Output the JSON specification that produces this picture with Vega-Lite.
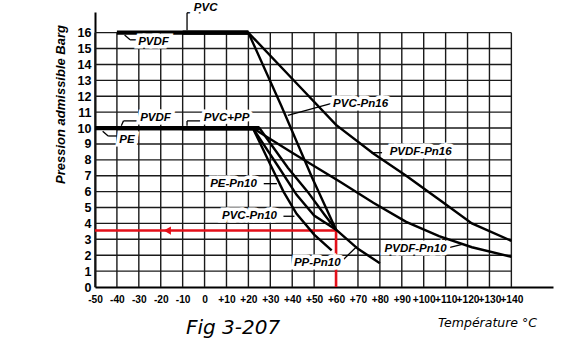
{
  "$schema": "https://vega.github.io/schema/vega-lite/v6.json",
  "width": 458,
  "height": 275,
  "autosize": {"type": "none"},
  "padding": {"left": 95, "top": 12, "right": 26, "bottom": 69},
  "background": "white",
  "config": {
    "view": {"stroke": null},
    "axis": {"grid": false, "ticks": false, "domainColor": "#000", "domainWidth": 2, "labelColor": "#000", "titleColor": "#000", "labelOverlap": false, "labelFlush": false, "labelBound": false}
  },
  "datasets": {
    "vgrid": [{"T": -50}, {"T": -40}, {"T": -30}, {"T": -20}, {"T": -10}, {"T": 0}, {"T": 10}, {"T": 20}, {"T": 30}, {"T": 40}, {"T": 50}, {"T": 60}, {"T": 70}, {"T": 80}, {"T": 90}, {"T": 100}, {"T": 110}, {"T": 120}, {"T": 130}, {"T": 140}],
    "hgrid": [{"P": 1}, {"P": 2}, {"P": 3}, {"P": 4}, {"P": 5}, {"P": 6}, {"P": 7}, {"P": 8}, {"P": 9}, {"P": 10}, {"P": 11}, {"P": 12}, {"P": 13}, {"P": 14}, {"P": 15}, {"P": 16}],
    "red": [{"i": 1, "T": -50, "P": 3.55}, {"i": 2, "T": 60, "P": 3.55}, {"i": 3, "T": 60, "P": 0}],
    "arrow": [{"T": -17, "P": 3.55}],
    "curves": [
      {"series": "PVDF-Pn16", "T": -40, "P": 16}, {"series": "PVDF-Pn16", "T": 20, "P": 16}, {"series": "PVDF-Pn16", "T": 40, "P": 13.1}, {"series": "PVDF-Pn16", "T": 60, "P": 10.2}, {"series": "PVDF-Pn16", "T": 77, "P": 8.4}, {"series": "PVDF-Pn16", "T": 92, "P": 7.0}, {"series": "PVDF-Pn16", "T": 107, "P": 5.5}, {"series": "PVDF-Pn16", "T": 122, "P": 4.0}, {"series": "PVDF-Pn16", "T": 140, "P": 2.9},
      {"series": "PVC-Pn16", "T": -10, "P": 16}, {"series": "PVC-Pn16", "T": 20, "P": 16}, {"series": "PVC-Pn16", "T": 35, "P": 11.4}, {"series": "PVC-Pn16", "T": 49, "P": 6.9}, {"series": "PVC-Pn16", "T": 60, "P": 3.6},
      {"series": "PE-Pn10", "T": -50, "P": 10}, {"series": "PE-Pn10", "T": 22, "P": 10}, {"series": "PE-Pn10", "T": 30, "P": 7.7}, {"series": "PE-Pn10", "T": 36, "P": 6.0}, {"series": "PE-Pn10", "T": 42, "P": 4.6}, {"series": "PE-Pn10", "T": 50, "P": 3.3}, {"series": "PE-Pn10", "T": 58, "P": 2.3},
      {"series": "PVC-Pn10", "T": -10, "P": 10}, {"series": "PVC-Pn10", "T": 22, "P": 10}, {"series": "PVC-Pn10", "T": 34, "P": 7.5}, {"series": "PVC-Pn10", "T": 42, "P": 5.8}, {"series": "PVC-Pn10", "T": 50, "P": 4.5}, {"series": "PVC-Pn10", "T": 60, "P": 3.6},
      {"series": "PP-Pn10", "T": -10, "P": 10}, {"series": "PP-Pn10", "T": 25, "P": 10}, {"series": "PP-Pn10", "T": 38, "P": 7.5}, {"series": "PP-Pn10", "T": 47, "P": 6.0}, {"series": "PP-Pn10", "T": 55, "P": 4.5}, {"series": "PP-Pn10", "T": 60, "P": 3.6}, {"series": "PP-Pn10", "T": 70, "P": 2.4}, {"series": "PP-Pn10", "T": 80, "P": 1.5},
      {"series": "PVDF-Pn10", "T": -40, "P": 10}, {"series": "PVDF-Pn10", "T": 22, "P": 10}, {"series": "PVDF-Pn10", "T": 40, "P": 8.45}, {"series": "PVDF-Pn10", "T": 62, "P": 6.6}, {"series": "PVDF-Pn10", "T": 77, "P": 5.3}, {"series": "PVDF-Pn10", "T": 92, "P": 4.1}, {"series": "PVDF-Pn10", "T": 107, "P": 3.2}, {"series": "PVDF-Pn10", "T": 122, "P": 2.5}, {"series": "PVDF-Pn10", "T": 140, "P": 1.9}
    ],
    "leaders": [
      {"T": -8, "P": 17.25, "T2": -8, "P2": 16.15}, {"T": -8, "P": 17.25, "T2": 1, "P2": 17.25},
      {"T": -36.5, "P": 15.85, "T2": -34, "P2": 15.55}, {"T": -34, "P": 15.55, "T2": -31, "P2": 15.55},
      {"T": -38, "P": 10.15, "T2": -37, "P2": 10.45}, {"T": -37, "P": 10.45, "T2": -31, "P2": 10.45},
      {"T": -8, "P": 10.15, "T2": -8, "P2": 10.45}, {"T": -8, "P": 10.45, "T2": -2, "P2": 10.45},
      {"T": -46.5, "P": 9.8, "T2": -44, "P2": 9.5}, {"T": -44, "P": 9.5, "T2": -40, "P2": 9.5},
      {"T": 58, "P": 11.55, "T2": 38, "P2": 10.8},
      {"T": 76, "P": 8.45, "T2": 81, "P2": 8.45},
      {"T": 27, "P": 6.5, "T2": 33, "P2": 6.5},
      {"T": 36, "P": 4.45, "T2": 41, "P2": 4.45},
      {"T": 63.5, "P": 1.75, "T2": 69.5, "P2": 2.55},
      {"T": 112, "P": 2.5, "T2": 118, "P2": 2.7}
    ],
    "labels": [
      {"text": "PVC", "T": 0.5, "P": 17.55},
      {"text": "PVDF", "T": -23.3, "P": 15.4},
      {"text": "PVDF", "T": -22.4, "P": 10.63},
      {"text": "PVC+PP", "T": 10, "P": 10.63},
      {"text": "PE", "T": -35.4, "P": 9.25},
      {"text": "PVC-Pn16", "T": 71.2, "P": 11.5},
      {"text": "PVDF-Pn16", "T": 98.6, "P": 8.5},
      {"text": "PE-Pn10", "T": 13.2, "P": 6.48},
      {"text": "PVC-Pn10", "T": 20.5, "P": 4.47},
      {"text": "PP-Pn10", "T": 51.4, "P": 1.5},
      {"text": "PVDF-Pn10", "T": 96.3, "P": 2.4}
    ],
    "fig": [{"text": "Fig 3-207", "T": 13, "P": -2.6}]
  },
  "layer": [
    {
      "data": {"name": "curves"},
      "mark": {"type": "line", "color": "#000", "strokeWidth": 0, "opacity": 0},
      "encoding": {
        "x": {"field": "T", "type": "quantitative", "scale": {"domain": [-50, 159], "nice": false, "zero": false}, "axis": {"values": [-50, -40, -30, -20, -10, 0, 10, 20, 30, 40, 50, 60, 70, 80, 90, 100, 110, 120, 130, 140], "tickCount": 40, "labelOverlap": false, "labelExpr": "datum.value > 0 ? '+' + datum.value : (datum.value < 0 ? '-' + (-datum.value) : '0')", "labelFont": "Liberation Sans", "labelFontSize": 10.2, "labelFontWeight": "bold", "labelPadding": 7, "title": "Température °C", "titleFont": "DejaVu Sans", "titleFontStyle": "italic", "titleFontWeight": "normal", "titleFontSize": 12.5, "titleX": 392, "titleY": 35, "titleAlign": "center", "titleBaseline": "middle"}},
        "y": {"field": "P", "type": "quantitative", "scale": {"domain": [0, 17.3], "nice": false, "zero": false}, "axis": {"values": [0, 1, 2, 3, 4, 5, 6, 7, 8, 9, 10, 11, 12, 13, 14, 15, 16], "format": "d", "tickCount": 40, "labelOverlap": false, "labelFont": "Liberation Sans", "labelFontSize": 12.5, "labelFontWeight": "bold", "labelPadding": 4, "title": "Pression admissible Barg", "titleFont": "Liberation Sans", "titleFontStyle": "italic", "titleFontWeight": "bold", "titleFontSize": 13, "titleX": -35, "titleY": 92, "titleAlign": "center", "titleBaseline": "middle", "titleAngle": -90}},
        "detail": {"field": "series"}
      }
    },
    {
      "data": {"name": "vgrid"},
      "mark": {"type": "rule", "color": "#1a1a1a", "strokeWidth": 1.4},
      "encoding": {
        "x": {"field": "T", "type": "quantitative"},
        "y": {"datum": 0, "type": "quantitative"},
        "y2": {"datum": 16}
      }
    },
    {
      "data": {"name": "hgrid"},
      "mark": {"type": "rule", "color": "#1a1a1a", "strokeWidth": 1.4},
      "encoding": {
        "y": {"field": "P", "type": "quantitative"},
        "x": {"datum": -50, "type": "quantitative"},
        "x2": {"datum": 140}
      }
    },
    {
      "data": {"name": "red"},
      "mark": {"type": "line", "color": "#e3101a", "strokeWidth": 2.6},
      "encoding": {
        "x": {"field": "T", "type": "quantitative"},
        "y": {"field": "P", "type": "quantitative"},
        "order": {"field": "i"}
      }
    },
    {
      "data": {"name": "arrow"},
      "mark": {"type": "point", "shape": "triangle-left", "filled": true, "color": "#e3101a", "size": 70, "opacity": 1},
      "encoding": {
        "x": {"field": "T", "type": "quantitative"},
        "y": {"field": "P", "type": "quantitative"}
      }
    },
    {
      "data": {"name": "curves"},
      "mark": {"type": "line", "color": "#000", "strokeWidth": 2.4},
      "encoding": {
        "x": {"field": "T", "type": "quantitative"},
        "y": {"field": "P", "type": "quantitative"},
        "detail": {"field": "series"}
      }
    },
    {
      "data": {"name": "curves"},
      "transform": [{"filter": "datum.P == 16 || datum.P == 10"}],
      "mark": {"type": "line", "color": "#000", "strokeWidth": 4.2},
      "encoding": {
        "x": {"field": "T", "type": "quantitative"},
        "y": {"field": "P", "type": "quantitative"},
        "detail": {"field": "series"}
      }
    },
    {
      "data": {"name": "leaders"},
      "mark": {"type": "rule", "color": "#000", "strokeWidth": 1.3},
      "encoding": {
        "x": {"field": "T", "type": "quantitative"},
        "y": {"field": "P", "type": "quantitative"},
        "x2": {"field": "T2"},
        "y2": {"field": "P2"}
      }
    },
    {
      "data": {"name": "labels"},
      "mark": {"type": "text", "font": "Liberation Sans", "fontSize": 11.5, "fontWeight": "bold", "fontStyle": "italic", "color": "white", "stroke": "white", "strokeWidth": 7, "align": "center", "baseline": "middle"},
      "encoding": {
        "x": {"field": "T", "type": "quantitative"},
        "y": {"field": "P", "type": "quantitative"},
        "text": {"field": "text"}
      }
    },
    {
      "data": {"name": "labels"},
      "mark": {"type": "text", "font": "Liberation Sans", "fontSize": 11.5, "fontWeight": "bold", "fontStyle": "italic", "color": "#000", "align": "center", "baseline": "middle"},
      "encoding": {
        "x": {"field": "T", "type": "quantitative"},
        "y": {"field": "P", "type": "quantitative"},
        "text": {"field": "text"}
      }
    },
    {
      "data": {"name": "fig"},
      "mark": {"type": "text", "font": "DejaVu Sans", "fontSize": 20, "fontStyle": "italic", "color": "#000", "align": "center", "baseline": "middle"},
      "encoding": {
        "x": {"field": "T", "type": "quantitative"},
        "y": {"field": "P", "type": "quantitative"},
        "text": {"field": "text"}
      }
    }
  ]
}
